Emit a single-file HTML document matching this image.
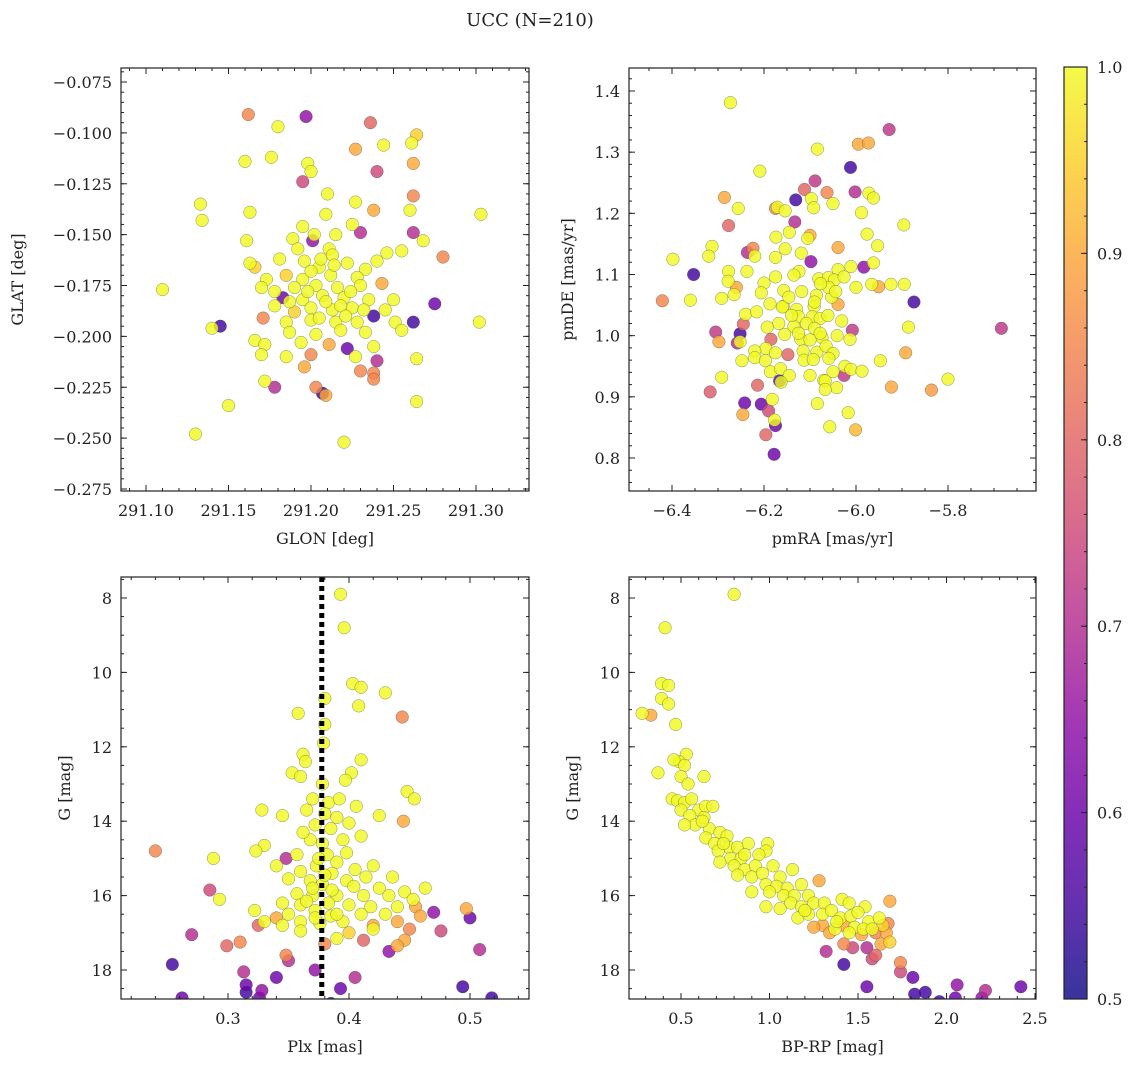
<!DOCTYPE html>
<html><head><meta charset="utf-8"><style>
body{margin:0;background:#fff}
svg text{font-family:"DejaVu Serif","Liberation Serif",serif;fill:#222}
</style></head><body>
<svg id="fig" width="1136" height="1067" viewBox="0 0 1136 1067" xmlns="http://www.w3.org/2000/svg">
<text x="530" y="26" font-size="18" text-anchor="middle">UCC (N=210)</text>
</svg>
<script>
// ---- data: [x, y, probability] ----
const glonGlatProb=[[291.162,-0.091,0.85],[291.197,-0.092,0.65],[291.180,-0.097,1],[291.236,-0.095,0.8],[291.264,-0.101,0.95],[291.261,-0.105,1],[291.244,-0.106,1],[291.227,-0.108,0.9],[291.160,-0.114,1],[291.176,-0.112,1],[291.262,-0.115,0.9],[291.198,-0.115,1],[291.200,-0.119,1],[291.240,-0.119,0.75],[291.195,-0.124,0.75],[291.210,-0.130,1],[291.227,-0.134,1],[291.262,-0.131,0.85],[291.133,-0.135,1],[291.134,-0.143,1],[291.163,-0.139,1],[291.209,-0.140,1],[291.238,-0.138,0.9],[291.260,-0.138,1],[291.195,-0.146,1],[291.225,-0.145,1],[291.303,-0.140,1],[291.161,-0.153,1],[291.189,-0.152,1],[291.202,-0.150,1],[291.215,-0.150,1],[291.230,-0.149,0.7],[291.262,-0.149,0.7],[291.268,-0.153,1],[291.201,-0.153,0.65],[291.192,-0.157,1],[291.211,-0.157,1],[291.246,-0.159,1],[291.255,-0.158,1],[291.181,-0.162,1],[291.163,-0.164,1],[291.240,-0.163,1],[291.280,-0.161,0.85],[291.110,-0.177,1],[291.166,-0.166,0.95],[291.205,-0.166,1],[291.222,-0.164,1],[291.233,-0.167,1],[291.173,-0.172,1],[291.185,-0.170,0.95],[291.195,-0.172,1],[291.200,-0.168,1],[291.212,-0.170,1],[291.228,-0.171,1],[291.170,-0.176,1],[291.178,-0.178,1],[291.190,-0.176,1],[291.203,-0.175,1],[291.216,-0.176,1],[291.230,-0.175,1],[291.243,-0.174,0.9],[291.183,-0.181,0.6],[291.195,-0.182,1],[291.207,-0.180,1],[291.220,-0.181,1],[291.235,-0.182,1],[291.250,-0.182,1],[291.178,-0.185,1],[291.190,-0.188,0.95],[291.200,-0.186,1],[291.213,-0.187,1],[291.225,-0.186,1],[291.238,-0.190,0.55],[291.275,-0.184,0.6],[291.171,-0.191,0.85],[291.185,-0.193,1],[291.200,-0.192,1],[291.215,-0.193,1],[291.228,-0.193,1],[291.251,-0.193,1],[291.145,-0.195,0.55],[291.140,-0.196,1],[291.166,-0.202,1],[291.187,-0.198,1],[291.203,-0.199,1],[291.218,-0.197,1],[291.233,-0.198,1],[291.262,-0.193,0.55],[291.302,-0.193,1],[291.172,-0.204,1],[291.194,-0.203,1],[291.211,-0.204,0.9],[291.222,-0.206,0.6],[291.238,-0.205,1],[291.255,-0.197,1],[291.170,-0.209,1],[291.185,-0.210,1],[291.200,-0.209,0.85],[291.227,-0.210,1],[291.240,-0.212,0.7],[291.264,-0.211,1],[291.196,-0.215,0.9],[291.230,-0.217,0.85],[291.238,-0.218,0.85],[291.172,-0.222,1],[291.178,-0.225,0.7],[291.203,-0.225,0.85],[291.207,-0.228,0.55],[291.209,-0.229,0.9],[291.150,-0.234,1],[291.264,-0.232,1],[291.130,-0.248,1],[291.220,-0.252,1],[291.238,-0.221,0.85],[291.213,-0.160,1],[291.218,-0.185,1],[291.206,-0.162,1],[291.198,-0.178,1],[291.209,-0.183,1],[291.224,-0.178,1],[291.214,-0.165,1],[291.196,-0.163,1],[291.221,-0.190,1],[291.205,-0.191,1],[291.187,-0.183,1],[291.232,-0.187,1],[291.245,-0.187,1]];
const pmraPmdeProb=[[-6.273,1.381,1],[-5.928,1.337,0.72],[-5.995,1.313,0.9],[-5.973,1.315,0.9],[-6.084,1.305,1],[-6.012,1.275,0.55],[-6.209,1.269,1],[-6.089,1.253,0.72],[-6.112,1.239,0.8],[-6.063,1.234,0.85],[-6.002,1.235,0.7],[-5.972,1.233,1],[-5.962,1.225,1],[-6.131,1.222,0.55],[-6.286,1.226,0.9],[-6.097,1.224,1],[-6.05,1.216,1],[-6.256,1.208,1],[-6.175,1.208,0.85],[-6.171,1.21,1],[-6.154,1.204,1],[-6.092,1.209,1],[-5.988,1.201,1],[-6.133,1.186,0.7],[-6.277,1.18,0.8],[-5.896,1.181,1],[-5.976,1.166,1],[-6.145,1.169,1],[-6.1,1.164,0.9],[-6.105,1.159,1],[-6.174,1.161,1],[-5.953,1.147,1],[-6.039,1.144,0.9],[-6.154,1.142,1],[-6.313,1.146,1],[-6.224,1.143,0.85],[-6.236,1.136,0.7],[-6.22,1.13,1],[-6.119,1.135,1],[-6.175,1.128,1],[-6.32,1.13,1],[-6.398,1.125,1],[-6.098,1.121,0.65],[-5.962,1.119,1],[-5.983,1.112,0.65],[-6.011,1.113,1],[-6.353,1.1,0.55],[-6.277,1.105,1],[-6.237,1.105,1],[-6.278,1.089,1],[-6.124,1.105,1],[-6.039,1.108,1],[-6.175,1.096,1],[-6.2,1.086,1],[-6.135,1.099,1],[-6.081,1.093,1],[-6.06,1.095,1],[-6.047,1.091,1],[-6.026,1.096,1],[-6.0,1.079,1],[-5.966,1.084,1],[-5.951,1.08,0.9],[-5.924,1.084,1],[-5.895,1.084,1],[-6.26,1.079,0.9],[-6.265,1.067,1],[-6.292,1.061,1],[-6.36,1.058,1],[-6.421,1.057,0.85],[-5.874,1.055,0.55],[-6.206,1.07,1],[-6.157,1.074,1],[-6.118,1.072,1],[-6.086,1.066,1],[-6.053,1.063,1],[-6.039,1.051,0.9],[-6.187,1.052,1],[-6.158,1.048,1],[-6.129,1.043,1],[-6.091,1.048,1],[-6.24,1.035,1],[-6.216,1.039,1],[-6.125,1.031,1],[-6.095,1.031,1],[-6.078,1.028,1],[-6.061,1.033,1],[-6.168,1.02,1],[-6.135,1.015,1],[-6.108,1.02,1],[-6.09,1.012,1],[-6.031,1.024,1],[-6.245,1.019,0.8],[-5.684,1.012,0.72],[-5.886,1.014,1],[-6.008,1.009,0.72],[-6.305,1.006,0.72],[-6.252,1.003,0.55],[-6.193,1.014,1],[-6.155,1.002,1],[-6.12,0.994,1],[-6.074,0.997,1],[-6.041,1.0,1],[-6.013,0.994,1],[-6.298,0.99,0.9],[-6.258,0.988,0.7],[-6.252,0.99,1],[-6.185,0.994,0.8],[-6.196,0.979,1],[-6.22,0.975,1],[-6.175,0.972,1],[-6.148,0.969,0.8],[-6.115,0.975,1],[-6.085,0.973,1],[-6.065,0.983,1],[-6.05,0.971,1],[-6.248,0.959,1],[-6.22,0.964,1],[-6.197,0.959,1],[-6.113,0.96,1],[-6.093,0.961,1],[-5.947,0.959,1],[-5.892,0.972,0.9],[-6.186,0.941,1],[-6.164,0.946,1],[-6.145,0.935,1],[-6.1,0.935,1],[-6.07,0.927,1],[-6.05,0.941,1],[-6.024,0.95,1],[-6.011,0.945,1],[-5.987,0.942,1],[-6.026,0.935,0.72],[-6.292,0.932,1],[-6.166,0.926,0.55],[-6.163,0.924,1],[-6.067,0.926,1],[-6.042,0.915,1],[-6.067,0.912,1],[-5.8,0.929,1],[-5.923,0.916,0.9],[-5.836,0.911,0.88],[-6.214,0.919,0.8],[-6.317,0.908,0.78],[-6.242,0.89,0.6],[-6.206,0.888,0.6],[-6.182,0.896,1],[-6.19,0.877,0.75],[-6.246,0.871,0.9],[-6.084,0.889,1],[-6.017,0.874,1],[-6.175,0.853,0.6],[-6.177,0.862,1],[-6.057,0.851,1],[-6.001,0.846,0.92],[-6.196,0.838,0.8],[-6.178,0.806,0.6],[-6.16,1.047,1],[-6.14,1.033,1],[-6.09,1.055,1],[-6.06,1.079,1],[-6.077,1.085,1],[-6.044,1.072,1],[-6.146,1.063,1],[-6.125,1.004,1],[-6.078,1.004,1],[-6.1,0.993,1],[-6.059,0.963,1]];
const plxGProb=[[0.393,7.9,1],[0.396,8.8,1],[0.38,10.7,1],[0.403,10.3,1],[0.41,10.4,1],[0.43,10.55,1],[0.408,10.9,1],[0.444,11.2,0.85],[0.38,11.4,1],[0.358,11.1,1],[0.379,11.9,1],[0.362,12.2,1],[0.364,12.4,1],[0.41,12.35,1],[0.402,12.7,1],[0.353,12.7,1],[0.36,12.8,1],[0.378,13.0,1],[0.397,12.9,1],[0.448,13.2,1],[0.454,13.4,1],[0.37,13.4,1],[0.383,13.5,1],[0.392,13.4,1],[0.406,13.6,1],[0.38,13.8,1],[0.365,13.7,1],[0.328,13.7,1],[0.345,13.85,1],[0.39,13.9,1],[0.425,13.85,1],[0.445,14.0,0.9],[0.372,14.1,1],[0.385,14.2,1],[0.40,14.05,1],[0.24,14.8,0.85],[0.33,14.65,1],[0.323,14.8,1],[0.368,14.5,1],[0.378,14.6,1],[0.395,14.5,1],[0.41,14.4,1],[0.357,14.9,1],[0.382,14.9,1],[0.398,14.85,1],[0.348,15.0,0.7],[0.288,15.0,1],[0.373,15.2,1],[0.39,15.1,1],[0.405,15.3,1],[0.42,15.2,1],[0.34,15.2,1],[0.36,15.35,1],[0.386,15.4,1],[0.414,15.5,1],[0.436,15.5,1],[0.35,15.55,1],[0.368,15.6,1],[0.398,15.6,1],[0.378,15.7,1],[0.404,15.75,1],[0.425,15.8,1],[0.446,15.9,1],[0.463,15.8,1],[0.285,15.85,0.75],[0.293,16.1,1],[0.357,15.95,1],[0.37,16.0,1],[0.39,16.0,1],[0.412,16.0,1],[0.433,16.0,1],[0.453,16.1,1],[0.345,16.2,1],[0.36,16.25,1],[0.383,16.2,1],[0.40,16.25,1],[0.418,16.3,1],[0.44,16.3,1],[0.455,16.3,0.9],[0.35,16.5,1],[0.372,16.4,1],[0.322,16.4,1],[0.34,16.6,0.9],[0.385,16.55,1],[0.41,16.5,1],[0.43,16.5,1],[0.47,16.45,0.65],[0.459,16.55,0.9],[0.497,16.35,0.9],[0.50,16.6,0.6],[0.33,16.7,1],[0.345,16.8,1],[0.36,16.7,1],[0.376,16.75,1],[0.395,16.7,1],[0.42,16.8,0.9],[0.44,16.7,0.9],[0.45,16.9,0.85],[0.476,16.95,0.75],[0.325,16.8,0.8],[0.36,16.95,1],[0.40,17.0,0.95],[0.42,16.9,1],[0.446,17.2,0.9],[0.27,17.05,0.7],[0.299,17.35,0.8],[0.31,17.25,0.85],[0.38,17.3,0.85],[0.39,17.15,1],[0.412,17.2,0.8],[0.433,17.5,0.65],[0.44,17.35,0.9],[0.508,17.45,0.7],[0.348,17.6,0.85],[0.35,17.75,0.7],[0.313,18.05,0.7],[0.315,18.4,0.6],[0.34,18.2,0.6],[0.372,18.0,0.65],[0.405,18.2,0.7],[0.254,17.85,0.55],[0.262,18.75,0.6],[0.315,18.6,0.55],[0.326,18.75,0.6],[0.328,18.55,0.65],[0.385,18.9,0.55],[0.393,18.5,0.6],[0.494,18.45,0.55],[0.518,18.75,0.55],[0.37,15.8,1],[0.365,16.15,1],[0.39,16.5,1],[0.375,15.0,1],[0.38,15.45,1],[0.372,16.6,1],[0.386,15.85,1],[0.362,14.3,1]];
const bprpGProb=[[0.8,7.9,1],[0.41,8.8,1],[0.39,10.3,1],[0.43,10.35,1],[0.39,10.7,1],[0.43,10.85,1],[0.28,11.1,1],[0.33,11.15,0.9],[0.47,11.4,1],[0.37,12.7,1],[0.53,12.2,1],[0.49,12.4,1],[0.52,12.5,1],[0.46,12.35,1],[0.5,12.8,1],[0.54,13.0,1],[0.63,12.8,1],[0.45,13.4,1],[0.48,13.45,1],[0.52,13.5,1],[0.56,13.4,1],[0.6,13.7,1],[0.64,13.6,1],[0.5,13.7,1],[0.55,13.85,1],[0.68,13.6,1],[0.63,13.9,1],[0.58,14.1,1],[0.52,14.1,1],[0.66,14.2,1],[0.72,14.3,1],[0.64,14.45,1],[0.76,14.4,1],[0.69,14.6,1],[0.77,14.7,1],[0.82,14.7,1],[0.71,14.8,1],[0.88,14.6,1],[0.99,14.6,1],[0.98,14.8,1],[0.78,15.0,1],[0.84,15.0,1],[0.94,14.9,1],[0.72,15.1,1],[0.8,15.2,1],[0.86,15.3,1],[0.92,15.2,1],[1.02,15.2,1],[0.82,15.45,1],[0.9,15.5,1],[0.96,15.4,1],[1.06,15.5,1],[1.13,15.3,1],[0.98,15.7,1],[1.04,15.75,1],[1.1,15.8,1],[1.18,15.7,1],[1.0,15.9,1],[1.08,16.0,1],[1.14,16.0,1],[1.22,16.0,1],[0.98,16.3,1],[1.12,16.2,1],[1.18,16.3,1],[1.25,16.2,1],[1.31,16.2,1],[1.41,16.1,1],[1.45,16.2,1],[1.54,16.3,1],[1.68,16.15,0.9],[1.16,16.6,1],[1.22,16.5,1],[1.3,16.5,1],[1.35,16.4,1],[1.4,16.6,1],[1.46,16.55,1],[1.5,16.45,1],[1.56,16.7,1],[1.62,16.6,1],[1.3,16.8,0.9],[1.34,17.0,0.9],[1.28,15.6,0.9],[1.37,16.9,1],[1.42,16.8,0.9],[1.48,16.85,1],[1.53,16.9,1],[1.58,16.9,1],[1.64,16.8,0.95],[1.67,16.75,0.85],[1.45,17.0,1],[1.52,17.05,0.9],[1.6,17.0,0.85],[1.66,17.0,0.9],[1.68,17.25,0.95],[1.32,17.5,0.7],[1.42,17.3,0.85],[1.47,17.4,0.75],[1.55,17.4,0.7],[1.63,17.3,0.9],[1.6,17.6,0.8],[1.58,17.7,0.75],[1.74,17.8,0.85],[1.74,18.05,0.75],[1.42,17.85,0.55],[1.55,18.45,0.6],[1.81,18.2,0.6],[1.82,18.65,0.55],[1.88,18.6,0.55],[1.96,18.85,0.55],[2.05,18.75,0.6],[2.06,18.4,0.65],[2.2,18.75,0.65],[2.22,18.55,0.7],[2.42,18.45,0.6],[1.25,16.85,0.9],[0.9,15.9,1],[1.06,16.35,1],[0.62,14.0,1],[0.86,14.9,1],[1.2,16.4,1],[1.38,16.7,1],[0.74,14.6,1]];
const glonTicks=[291.10,291.15,291.20,291.25,291.30];
const glatTicks=[-0.075,-0.100,-0.125,-0.150,-0.175,-0.200,-0.225,-0.250,-0.275];
const pmraTicks=[-6.4,-6.2,-6.0,-5.8];
const pmdeTicks=[0.8,0.9,1.0,1.1,1.2,1.3,1.4];
const plxTicks=[0.3,0.4,0.5];
const gTicks=[8,10,12,14,16,18];
const bprpTicks=[0.5,1.0,1.5,2.0,2.5];
const cbarTicks=[0.5,0.6,0.7,0.8,0.9,1.0];
const plxMedian=0.3775;

const NS="http://www.w3.org/2000/svg";
const svg=document.getElementById('fig');
function mk(tag,attrs,parent){const e=document.createElementNS(NS,tag);for(const k in attrs)e.setAttribute(k,attrs[k]);(parent||svg).appendChild(e);return e;}
const stops=[[13,8,135],[65,4,157],[106,0,168],[143,13,164],[177,42,144],[204,71,120],[225,100,98],[242,132,75],[252,166,54],[252,206,37],[240,249,33]];
function plasma(t){t=Math.max(0,Math.min(1,t))*10;const i=Math.min(9,Math.floor(t)),f=t-i;const a=stops[i],b=stops[i+1];return `rgb(${Math.round(a[0]+(b[0]-a[0])*f)},${Math.round(a[1]+(b[1]-a[1])*f)},${Math.round(a[2]+(b[2]-a[2])*f)})`;}
function col(p){return plasma((p-0.5)/0.5);}
const minus=v=>String(v).replace('-','\u2212');
const defs=mk('defs',{});
let clipN=0;

function panel(o){
  const g=mk('g',{});
  
  
  const sx=v=>o.x0+(v-o.xa)/(o.xb-o.xa)*(o.x1-o.x0);
  const sy=v=>o.y0+(v-o.ya)/(o.yb-o.ya)*(o.y1-o.y0);
  const xl=[o.xa+(o.L-o.x0)/(o.x1-o.x0)*(o.xb-o.xa), o.xa+(o.R-o.x0)/(o.x1-o.x0)*(o.xb-o.xa)];
  const yl=[o.ya+(o.T-o.y0)/(o.y1-o.y0)*(o.yb-o.ya), o.ya+(o.B-o.y0)/(o.y1-o.y0)*(o.yb-o.ya)];
  const cid='clip'+(clipN++);
  const cp=mk('clipPath',{id:cid},defs);
  mk('rect',{x:o.L,y:o.T,width:o.R-o.L,height:o.B-o.T},cp);
  const pts=mk('g',{'clip-path':`url(#${cid})`},g);
  
  
  const sorted=o.data.slice().sort((a,b)=>a[2]-b[2]);
  for(const d of sorted){
    const c=mk('circle',{cx:sx(d[0]),cy:sy(d[1]),r:6.3,fill:col(d[2]),'fill-opacity':0.82,stroke:'#444','stroke-width':0.5,'stroke-opacity':0.6},pts);
    
    
  }
  if(o.vline!==undefined){
    const l=mk('line',{x1:sx(o.vline),x2:sx(o.vline),y1:o.T,y2:o.B,stroke:'#000','stroke-width':5,'stroke-dasharray':'5 4'},g);
    
    
  }
  const fr=mk('rect',{x:o.L,y:o.T,width:o.R-o.L,height:o.B-o.T,fill:'none',stroke:'#222','stroke-width':1.2},g);
  
  
  const tk=(x1,y1,x2,y2)=>mk('line',{x1,y1,x2,y2,stroke:'#222','stroke-width':1},g);
  const xm0=Math.ceil(Math.min(...xl)/o.xmin-1e-6)*o.xmin;
  for(let v=xm0;v<=Math.max(...xl)+1e-9;v+=o.xmin){const x=sx(v);tk(x,o.B,x,o.B-3);tk(x,o.T,x,o.T+3);}
  const ym0=Math.ceil(Math.min(...yl)/o.ymin-1e-6)*o.ymin;
  for(let v=ym0;v<=Math.max(...yl)+1e-9;v+=o.ymin){const y=sy(v);tk(o.L,y,o.L+3,y);tk(o.R,y,o.R-3,y);}
  for(const v of o.xt){const x=sx(v);tk(x,o.B,x,o.B-6);tk(x,o.T,x,o.T+6);
    const t=mk('text',{x:x,y:o.B+25,'font-size':16,'text-anchor':'middle'},g);t.textContent=minus(v.toFixed(o.xd));
    }
  for(const v of o.yt){const y=sy(v);tk(o.L,y,o.L+6,y);tk(o.R,y,o.R-6,y);
    const t=mk('text',{x:o.L-9,y:y+6,'font-size':16,'text-anchor':'end'},g);t.textContent=minus(v.toFixed(o.yd));
    }
  const xt=mk('text',{x:(o.L+o.R)/2,y:o.B+53,'font-size':16,'text-anchor':'middle'},g);xt.textContent=o.xlab;
  
  const yx=o.ylx, yy=(o.T+o.B)/2;
  const yt=mk('text',{x:yx,y:yy,'font-size':16,'text-anchor':'middle',transform:`rotate(-90 ${yx} ${yy})`},g);yt.textContent=o.ylab;
  
}
panel({name:'glon-glat-panel',data:glonGlatProb,L:121,R:529,T:68,B:491,xa:291.10,xb:291.30,x0:146,x1:476,ya:-0.075,yb:-0.275,y0:82,y1:489,xt:glonTicks,yt:glatTicks,xd:2,yd:3,xmin:0.01,ymin:0.005,xlab:'GLON [deg]',ylab:'GLAT [deg]',ylx:23});
panel({name:'pm-panel',data:pmraPmdeProb,L:629,R:1036,T:68,B:491,xa:-6.4,xb:-5.8,x0:672,x1:948,ya:1.4,yb:0.8,y0:91,y1:458,xt:pmraTicks,yt:pmdeTicks,xd:1,yd:1,xmin:0.05,ymin:0.02,xlab:'pmRA [mas/yr]',ylab:'pmDE [mas/yr]',ylx:573});
panel({name:'plx-g-panel',data:plxGProb,L:121,R:529,T:577,B:999,xa:0.3,xb:0.5,x0:228,x1:470,ya:8,yb:18,y0:598,y1:970,xt:plxTicks,yt:gTicks,xd:1,yd:0,xmin:0.02,ymin:0.5,xlab:'Plx [mas]',ylab:'G [mag]',ylx:70,vline:plxMedian});
panel({name:'cmd-panel',data:bprpGProb,L:629,R:1036,T:577,B:999,xa:0.5,xb:2.5,x0:681,x1:1035,ya:8,yb:18,y0:598,y1:970,xt:bprpTicks,yt:gTicks,xd:1,yd:0,xmin:0.1,ymin:0.5,xlab:'BP-RP [mag]',ylab:'G [mag]',ylx:578});

// colorbar
const cb=mk('g',{});


const lg=mk('linearGradient',{id:'cbg',x1:0,y1:1,x2:0,y2:0},defs);
for(let i=0;i<=10;i++)mk('stop',{offset:i/10,'stop-color':plasma(i/10),'stop-opacity':0.82},lg);
const cT=67,cB=999,cL=1064,cR=1087;
mk('rect',{x:cL,y:cT,width:cR-cL,height:cB-cT,fill:'url(#cbg)',stroke:'#222','stroke-width':1.2},cb);
const cy=v=>cB-(v-0.5)/0.5*(cB-cT);
for(let v=0.5;v<=1.0001;v+=0.02){mk('line',{x1:cR,x2:cR-3,y1:cy(v),y2:cy(v),stroke:'#222'},cb);}
for(const v of cbarTicks){mk('line',{x1:cR,x2:cR-6,y1:cy(v),y2:cy(v),stroke:'#222'},cb);
  const t=mk('text',{x:cR+10,y:cy(v)+6,'font-size':16},cb);t.textContent=v.toFixed(1);
  }
</script>
</body></html>
